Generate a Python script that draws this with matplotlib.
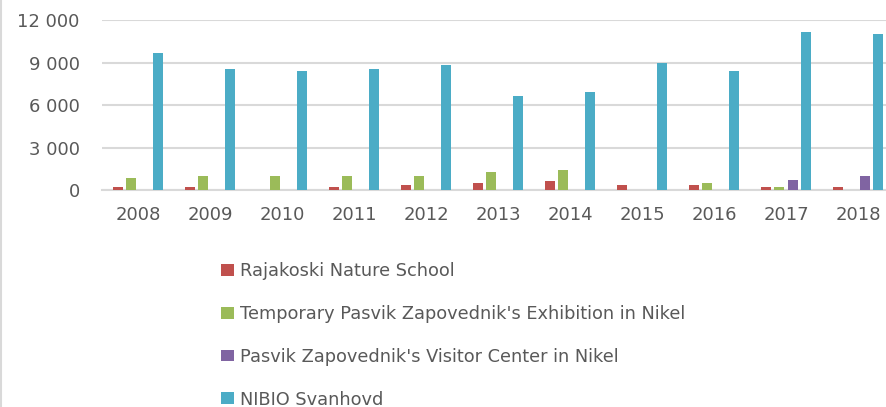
import matplotlib.pyplot as plt
import numpy as np
from matplotlib.patches import Patch

years = ['2008', '2009', '2010', '2011', '2012', '2013', '2014', '2015', '2016', '2017', '2018']
rajakoski = [200, 200, 0, 200, 350, 490, 630, 350, 350, 200, 200]
temporary = [870, 1000, 1000, 1000, 1000, 1290, 1430, 0, 490, 200, 0]
visitor = [0, 0, 0, 0, 0, 0, 0, 0, 0, 730, 1000]
nibio = [9650, 8570, 8430, 8570, 8850, 6670, 6950, 8970, 8430, 11130, 10990]
names = ['Rajakoski Nature School',
         "Temporary Pasvik Zapovednik's Exhibition in Nikel",
         "Pasvik Zapovednik's Visitor Center in Nikel",
         'NIBIO Svanhovd']
colors = ['#C0504D', '#9BBB59', '#8064A2', '#4BACC6']
yticks = [0, 3000, 6000, 9000, 12000]
ytick_labels = ['0', '3 000', '6 000', '9 000', '12 000']

W, H = 887, 407
fig = plt.figure(figsize=(W / 100, H / 100), dpi=100)
# axes runs a bit past the right edge, like the cropped original
ax = fig.add_axes([102 / W, 1 - 190.3 / H, 792 / W, 170.3 / H])

x = np.arange(len(years))
pitch = 0.185
width = 0.139
series = [rajakoski, temporary, visitor, nibio]
for i, (vals, c) in enumerate(zip(series, colors)):
    ax.bar(x + (i - 1.5) * pitch, vals, width, color=c, zorder=3)

ax.set_xlim(-0.5, len(years) - 0.5)
ax.set_ylim(0, 12000)
ax.set_yticks(yticks)
ax.set_yticklabels(ytick_labels)
ax.set_xticks(x)
ax.set_xticklabels(years)
ax.grid(axis='y', color='#d9d9d9', linewidth=1.5, zorder=0)
for s in ['top', 'right', 'left']:
    ax.spines[s].set_visible(False)
ax.spines['bottom'].set_color('#d9d9d9')
ax.spines['bottom'].set_linewidth(1.5)
ax.tick_params(axis='both', length=0, labelsize=13, labelcolor='#595959')
ax.tick_params(axis='y', pad=16)
ax.tick_params(axis='x', pad=11)

handles = [Patch(facecolor=c, edgecolor='none') for c in colors]
fig.legend(handles, names, loc='upper left', bbox_to_anchor=(221 / W, 1 - 262 / H),
           frameon=False, fontsize=12.8, labelcolor='#595959', borderpad=0,
           borderaxespad=0, labelspacing=1.4, handlelength=0.71, handleheight=0.65,
           handletextpad=0.35)

# left frame edge of the original chart box
fig.add_artist(plt.Line2D([1.5 / W, 1.5 / W], [0, 1], color='#d9d9d9', linewidth=1.5))

fig.savefig('out.png', dpi=100)
